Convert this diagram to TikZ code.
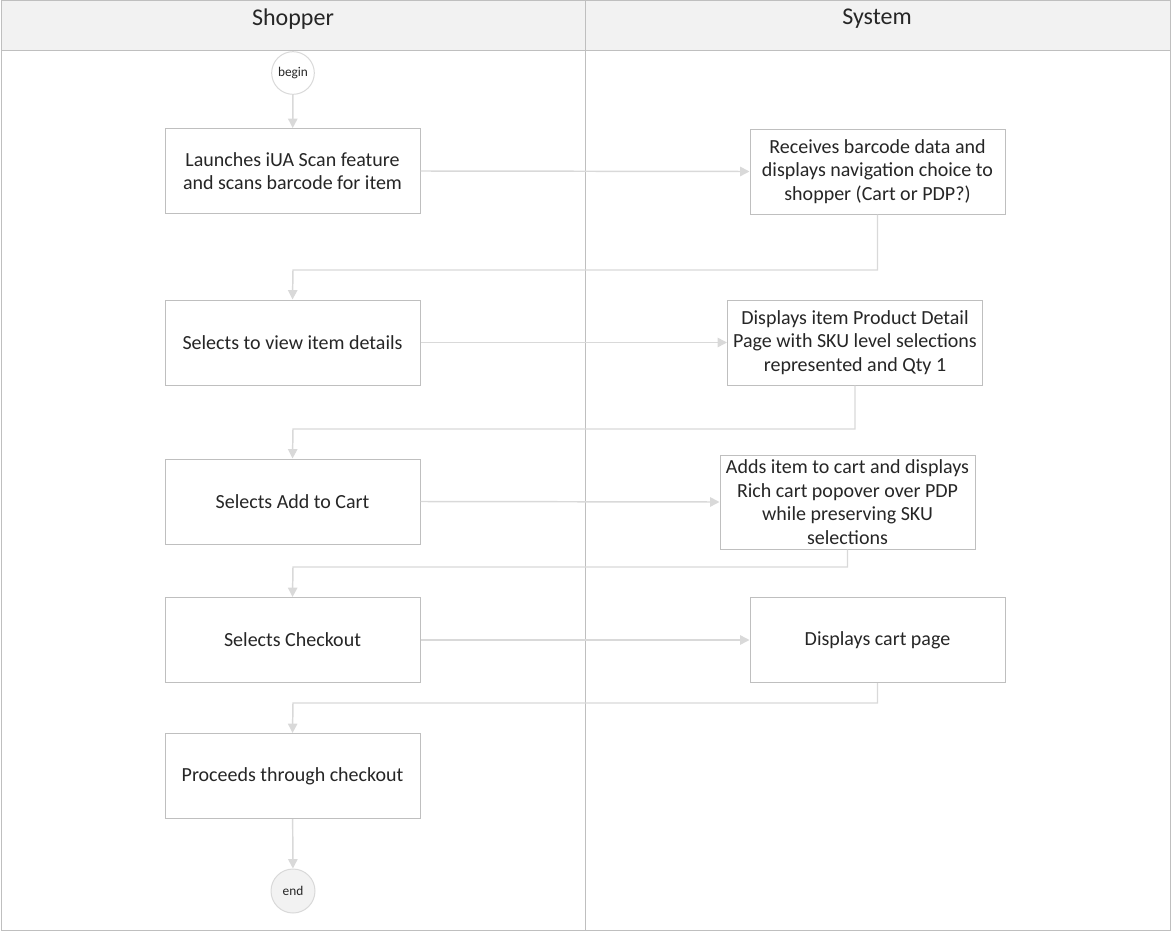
\documentclass[tikz,border=0pt]{standalone}
\usepackage{fontspec}
\setmainfont{Carlito}
\usetikzlibrary{arrows.meta}

\definecolor{lanefill}{RGB}{242,242,242}
\definecolor{laneline}{RGB}{191,191,191}
\definecolor{boxline}{RGB}{191,191,191}
\definecolor{flowline}{RGB}{217,217,217}

\tikzset{every picture/.style={line width=0.75pt},
  lanehead/.style={font=\fontsize{18}{21}\selectfont, text=black!85},
  stepbox/.style={draw=boxline, fill=white, minimum width=191.25pt, minimum height=63.75pt,
    align=center, inner sep=1pt, font=\fontsize{15}{17.7}\selectfont, text=black!85},
  termnode/.style={circle, draw=flowline, minimum size=32pt, inner sep=0pt,
    font=\fontsize{10}{12}\selectfont, text=black!85},
  flow/.style={draw=flowline, line width=1.1pt, -{Triangle[length=7pt,width=7pt]}}
}

\begin{document}
\begin{tikzpicture}[x=0.75pt,y=0.75pt,yscale=-1,xscale=1]
\useasboundingbox (0,0) rectangle (1171,931);

%Lanes
\draw [draw=laneline, fill=lanefill] (1,1) rectangle (1170,51) ;
\draw [draw=laneline] (1,51) rectangle (1170,930) ;
\draw [draw=laneline] (585,1) -- (585,930) ;

% Text Node
\node [lanehead] (shopper) at (293,19) {Shopper};
% Text Node
\node [lanehead] (system) at (877,19) {System};

% Shopper lane
\node [termnode, fill=white] (begin) at (293,73) {begin};
\node [stepbox] (scan) at (292.5,171) {Launches iUA Scan feature\\and scans barcode for item};
\node [stepbox] (details) at (292.5,342.5) {Selects to view item details};
\node [stepbox] (add) at (292.5,501.5) {Selects Add to Cart};
\node [stepbox] (checkout) at (292.5,640) {Selects Checkout};
\node [stepbox] (proceed) at (292.5,776) {Proceeds through checkout};
\node [termnode, fill=lanefill, minimum size=33pt] (end) at (293,891) {end};

% System lane
\node [stepbox] (receive) at (877.5,171.5) {Receives barcode data and\\displays navigation choice to\\shopper (Cart or PDP?)};
\node [stepbox] (pdp) at (855,342.5) {Displays item Product Detail\\Page with SKU level selections\\represented and Qty 1};
\node [stepbox, minimum height=70.5pt] (popover) at (847.5,502) {Adds item to cart and displays\\Rich cart popover over PDP\\while preserving SKU\\selections};
\node [stepbox] (cartpage) at (877.5,640) {Displays cart page};

% Bends
\coordinate (bend1) at (293,270);
\coordinate (bend2) at (293,429);
\coordinate (bend3) at (293,567);
\coordinate (bend4) at (293,703);

%Connectors
\draw [flow] (begin) -- (scan) ;
\draw [flow] (scan.east) -- (receive.west) ;
\draw [flow] (receive.south) |- (bend1) -- (details.north) ;
\draw [flow] (details.east) -- (pdp.west) ;
\draw [flow] (pdp.south) |- (bend2) -- (add.north) ;
\draw [flow] (add.east) -- (popover.west) ;
\draw [flow] (popover.south) |- (bend3) -- (checkout.north) ;
\draw [flow] (checkout.east) -- (cartpage.west) ;
\draw [flow] (cartpage.south) |- (bend4) -- (proceed.north) ;
\draw [flow] (proceed) -- (end) ;

\end{tikzpicture}
\end{document}
